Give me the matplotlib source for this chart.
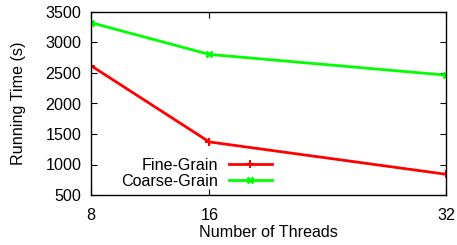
import matplotlib.pyplot as plt

threads = [8, 16, 32]
fine_grain = [2620, 1370, 840]
coarse_grain = [3325, 2805, 2465]
y_ticks = [500, 1000, 1500, 2000, 2500, 3000, 3500]

plt.rcParams['font.family'] = 'Liberation Sans'
plt.rcParams['font.size'] = 11.6

fig = plt.figure(figsize=(4.57, 2.45), dpi=100)
ax = fig.add_axes([91 / 457, 50 / 245, 355 / 457, 183 / 245])

ax.plot(threads, fine_grain, color='#ff0000', lw=2, marker='+', ms=6, mew=1.5,
        label='Fine-Grain')
ax.plot(threads, coarse_grain, color='#00ff00', lw=2, marker='x', ms=5, mew=1.8,
        label='Coarse-Grain')

ax.set_xlim(8, 32)
ax.set_ylim(500, 3500)
ax.set_xticks(threads)
ax.set_yticks(y_ticks)
ax.tick_params(direction='in', length=4.3, width=0.8, top=True, right=True)
ax.tick_params(axis='x', pad=9)
ax.tick_params(axis='y', pad=7)
for s in ax.spines.values():
    s.set_linewidth(1)

ax.set_xlabel('Number of Threads', labelpad=2)
ax.set_ylabel('Running Time (s)', labelpad=14)

ax.legend(loc='lower right', bbox_to_anchor=(0.51, 0.035), frameon=False,
          markerfirst=False, handlelength=2.7, handletextpad=0.65,
          borderpad=0, labelspacing=0.05, borderaxespad=0)

fig.savefig('out.png', dpi=100)
